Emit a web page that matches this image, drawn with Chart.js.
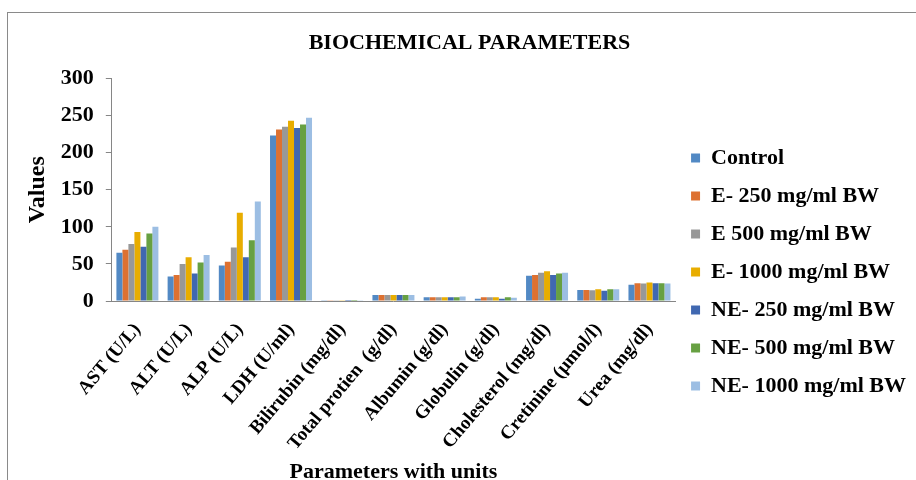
<!DOCTYPE html>
<html>
<head>
<meta charset="utf-8">
<script src="https://cdn.jsdelivr.net/npm/chart.js@4/dist/chart.umd.min.js"></script>
<style>
  html, body { margin: 0; padding: 0; background: #fff; }
  #wrap { width: 916px; height: 480px; position: relative; }
</style>
</head>
<body>
<div id="wrap"><canvas id="chart" width="916" height="480"></canvas></div>
<script>
// Parameters on the x axis
const categories = [
  'AST (U/L)', 'ALT (U/L)', 'ALP (U/L)', 'LDH (U/ml)', 'Bilirubin (mg/dl)',
  'Total protien  (g/dl)', 'Albumin (g/dl)', 'Globulin (g/dl)',
  'Cholesterol (mg/dl)', 'Cretinine (µmol/l)', 'Urea (mg/dl)'
];

// One array per treatment group
const control = [65, 33, 48, 223, 1.2, 8, 5, 3.2, 34, 15, 22];
const e250    = [69, 35, 53, 231, 1.2, 8, 5, 5, 35, 15, 24];
const e500    = [77, 50, 72, 235, 1.2, 8, 5, 5, 38, 14.5, 23.5];
const e1000   = [93, 59, 119, 243, 1.2, 8, 5, 5, 40, 16, 25];
const ne250   = [73, 37, 59, 233, 1.3, 8, 5, 3.2, 35, 14, 24];
const ne500   = [91, 52, 82, 238, 1.3, 8, 5, 5, 37, 16, 24];
const ne1000  = [100, 62, 134, 247, 1.0, 8, 6, 4.5, 38, 16, 23.5];

const seriesNames = [
  'Control', 'E- 250 mg/ml BW', 'E 500 mg/ml BW', 'E- 1000 mg/ml BW',
  'NE- 250 mg/ml BW', 'NE- 500 mg/ml BW', 'NE- 1000 mg/ml BW'
];
const seriesColors = ['#5289c4', '#dd7131', '#989898', '#e8ad00', '#4068b1', '#67a042', '#9cbee3'];

const yTicks = [0, 50, 100, 150, 200, 250, 300];

const serif = '"Liberation Serif", "Times New Roman", serif';
const axisGrey = '#868686';

// white page + the thin frame round the chart
const framePlugin = {
  id: 'frame',
  beforeDraw(chart) {
    const ctx = chart.ctx;
    ctx.save();
    ctx.fillStyle = '#fff';
    ctx.fillRect(0, 0, chart.width, chart.height);
    ctx.strokeStyle = '#8a8a8a';
    ctx.lineWidth = 1;
    ctx.strokeRect(7.5, 12.5, 1000, 1000);
    ctx.restore();
  }
};

const allSeries = [control, e250, e500, e1000, ne250, ne500, ne1000];

const ctx = document.getElementById('chart').getContext('2d');
new Chart(ctx, {
  type: 'bar',
  data: {
    labels: categories,
    datasets: allSeries.map((vals, i) => ({
      label: seriesNames[i],
      data: vals,
      backgroundColor: seriesColors[i],
      borderWidth: 0,
      categoryPercentage: 0.82,
      barPercentage: 1.0
    }))
  },
  options: {
    responsive: false,
    animation: false,
    devicePixelRatio: 1,
    layout: { padding: { top: 20, left: 23, right: 0, bottom: 0 } },
    scales: {
      x: {
        grid: { display: false, drawTicks: false },
        border: { color: axisGrey, width: 1 },
        ticks: {
          color: '#000',
          font: { family: serif, size: 19, weight: 'bold' },
          maxRotation: 50,
          minRotation: 50,
          autoSkip: false,
          padding: 18
        },
        title: {
          display: true,
          text: 'Parameters with units',
          color: '#000',
          font: { family: serif, size: 22, weight: 'bold' },
          // negative padding lets the title sit close under the long labels
          padding: { top: -13, bottom: -6 }
        }
      },
      y: {
        min: 0,
        max: 300,
        afterBuildTicks(scale) {
          scale.ticks = yTicks.map(v => ({ value: v }));
        },
        grid: {
          drawOnChartArea: false,
          drawTicks: true,
          tickLength: 6,
          color: axisGrey
        },
        border: { color: axisGrey, width: 1 },
        ticks: {
          color: '#000',
          font: { family: serif, size: 22, weight: 'bold' },
          padding: 12
        },
        title: {
          display: true,
          text: 'Values',
          color: '#000',
          font: { family: serif, size: 24, weight: 'bold' },
          padding: { top: 0, bottom: -3 }
        }
      }
    },
    plugins: {
      title: {
        display: true,
        text: 'BIOCHEMICAL PARAMETERS',
        color: '#000',
        font: { family: serif, size: 22, weight: 'bold' },
        padding: { top: 10, bottom: 22 }
      },
      legend: {
        position: 'right',
        maxWidth: 300,
        title: {
          display: true,
          text: ' ',
          font: { size: 10 },
          padding: { top: 32, bottom: 0 }
        },
        labels: {
          color: '#000',
          font: { family: serif, size: 22, weight: 'bold' },
          boxWidth: 9,
          boxHeight: 9,
          padding: 16
        }
      },
      tooltip: { enabled: false }
    }
  },
  plugins: [framePlugin]
});
</script>
</body>
</html>
